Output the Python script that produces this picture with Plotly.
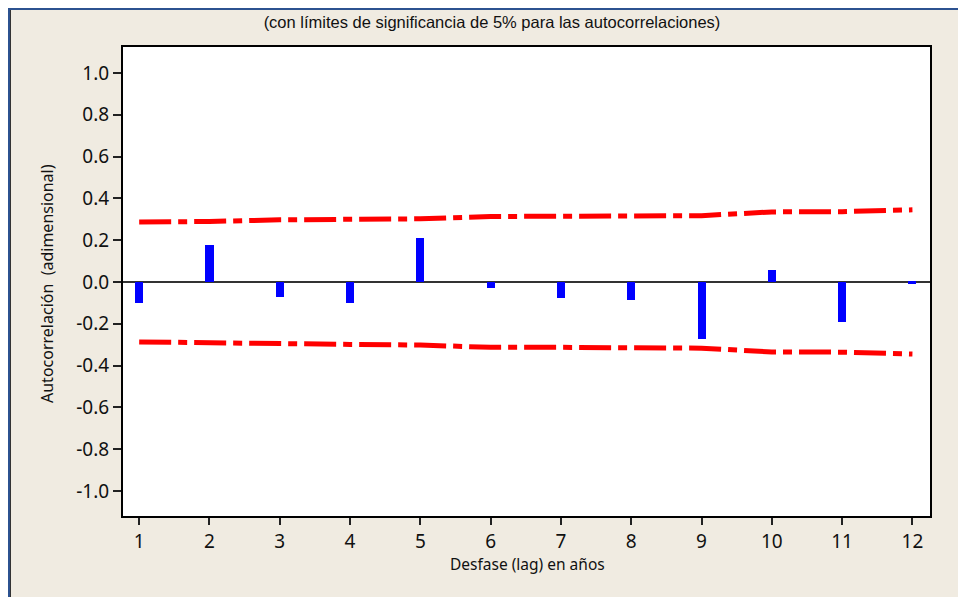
import plotly.graph_objects as go

lags = [1, 2, 3, 4, 5, 6, 7, 8, 9, 10, 11, 12]
acf = [-0.10, 0.175, -0.07, -0.10, 0.21, -0.03, -0.075, -0.085, -0.273, 0.057, -0.193, -0.008]
upper = [0.287, 0.289, 0.297, 0.299, 0.302, 0.313, 0.313, 0.315, 0.317, 0.335, 0.336, 0.345]
lower = [-u for u in upper]
yticks = [1.0, 0.8, 0.6, 0.4, 0.2, 0.0, -0.2, -0.4, -0.6, -0.8, -1.0]

title = "(con límites de significancia de 5% para las autocorrelaciones)"
xtitle = "Desfase (lag) en años"
ytitle = "Autocorrelación\u00a0\u00a0(adimensional)"

# page body adds an 8px offset; lay out in page pixels and shift by it
OFF = 8
PAGE_W, PAGE_H = 966, 597
W, H = PAGE_W - OFF, PAGE_H - OFF
L, T = 123 - OFF, 47 - OFF
pw, ph = 930 - 123, 516 - 47
R, B = W - L - pw, H - T - ph

def px_x(x):
    return (x - OFF - L) / pw

def px_y(y):
    return (T + ph - (y - OFF)) / ph

BG = "#F0EBE1"
fig = go.Figure()
fig.add_trace(go.Bar(x=lags, y=acf, width=0.115, marker=dict(color="#0000FF", line=dict(width=0)),
                     showlegend=False))
dash = "32px,7px,9px,7px"
for lim in (upper, lower):
    fig.add_trace(go.Scatter(x=lags, y=lim, mode="lines", showlegend=False,
                             line=dict(color="#FF0000", width=5, dash=dash)))

fig.update_layout(
    width=W, height=H,
    margin=dict(l=L, r=R, t=T, b=B, pad=0),
    paper_bgcolor=BG, plot_bgcolor="white",
    font=dict(family="Noto Sans", color="#111111"),
    bargap=0,
    title=dict(text=title, x=(492 - OFF) / W, xanchor="center", xref="container",
               y=1 - (22 - OFF) / H, yanchor="middle", yref="container",
               font=dict(family="Liberation Sans", size=16.5, color="#111111")),
)
fig.update_xaxes(range=[0.77, 12.25], tickmode="array", tickvals=lags,
                 ticktext=[str(v) for v in lags], showgrid=False, zeroline=False,
                 showline=True, linecolor="black", linewidth=2, mirror=True,
                 ticks="outside", ticklen=7, tickwidth=2, tickcolor="#222",
                 tickfont=dict(size=19, family="Noto Sans"))
fig.update_yaxes(range=[-1.12, 1.124], tickmode="array", tickvals=yticks,
                 ticktext=[f"{v:.1f}" for v in yticks], showgrid=False,
                 zeroline=True, zerolinecolor="#333333", zerolinewidth=2,
                 showline=True, linecolor="black", linewidth=2, mirror=True,
                 ticks="outside", ticklen=8, tickwidth=2, tickcolor="#222",
                 tickfont=dict(size=19, family="Noto Sans"))

fig.add_annotation(text=xtitle, xref="paper", yref="paper", x=px_x(527), y=px_y(564),
                   showarrow=False, xanchor="center", yanchor="middle",
                   font=dict(size=15.5, family="Noto Sans", color="#111"))
fig.add_annotation(text=ytitle, xref="paper", yref="paper", x=px_x(47), y=px_y(284),
                   showarrow=False, xanchor="center", yanchor="middle", textangle=-90,
                   font=dict(size=16, family="Noto Sans", color="#111"))

# window frame lines
fig.add_shape(type="line", xref="paper", yref="paper", x0=px_x(8), x1=px_x(PAGE_W + 5),
              y0=px_y(9), y1=px_y(9), line=dict(color="#2C5290", width=2))
fig.add_shape(type="line", xref="paper", yref="paper", x0=px_x(9), x1=px_x(9),
              y0=px_y(8), y1=px_y(PAGE_H + 5), line=dict(color="#2C5290", width=2))
fig.add_shape(type="line", xref="paper", yref="paper", x0=px_x(10.5), x1=px_x(10.5),
              y0=px_y(10), y1=px_y(PAGE_H + 5), line=dict(color="#333333", width=1))

fig.write_html("out.html")
